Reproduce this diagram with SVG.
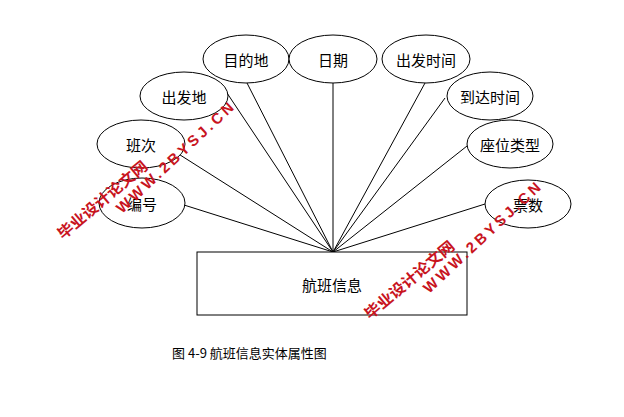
<svg xmlns="http://www.w3.org/2000/svg" width="624" height="417" viewBox="0 0 624 417">
<style>
.e{fill:#fff;stroke:#000;stroke-width:1}
.t{font-family:"Noto Sans CJK SC",sans-serif;font-size:15px;text-anchor:middle;dominant-baseline:central;fill:#000}
.w{font-family:"Liberation Sans","Noto Sans CJK SC",sans-serif;font-weight:bold;fill:#c8141e}
#c line{stroke:#000;stroke-width:1}
</style>
<rect width="624" height="417" fill="#fff"/>
<g id="c">
<line x1="247" y1="83" x2="333" y2="252"/>
<line x1="333" y1="83" x2="333" y2="252"/>
<line x1="425" y1="83" x2="333" y2="252"/>
<line x1="445" y1="98" x2="333" y2="252"/>
<line x1="467" y1="146" x2="333" y2="252"/>
<line x1="485" y1="204" x2="333" y2="252"/>
<line x1="184" y1="205" x2="333" y2="252"/>
<line x1="177" y1="153" x2="333" y2="252"/>
<line x1="227" y1="93" x2="333" y2="252"/>
</g>
<g id="n0"><rect x="197" y="252" width="270" height="63" fill="#fff" stroke="#000"/><text class="t" x="332" y="284">航班信息</text></g>
<g id="n1"><ellipse class="e" cx="246" cy="59" rx="43" ry="24"/><text class="t" x="246" y="59">目的地</text></g>
<g id="n2"><ellipse class="e" cx="333" cy="59" rx="44" ry="24"/><text class="t" x="333" y="59">日期</text></g>
<g id="n3"><ellipse class="e" cx="426" cy="59" rx="44" ry="24"/><text class="t" x="426" y="59">出发时间</text></g>
<g id="n4"><ellipse class="e" cx="490" cy="96" rx="43" ry="24"/><text class="t" x="490" y="96">到达时间</text></g>
<g id="n5"><ellipse class="e" cx="510" cy="144" rx="43" ry="24"/><text class="t" x="510" y="144">座位类型</text></g>
<g id="n6"><ellipse class="e" cx="528" cy="204" rx="43" ry="24"/><text class="t" x="528" y="204">票数</text></g>
<g id="n7"><ellipse class="e" cx="184" cy="96" rx="44" ry="24"/><text class="t" x="184" y="96">出发地</text></g>
<g id="n8"><ellipse class="e" cx="141" cy="144" rx="44" ry="24"/><text class="t" x="141" y="144">班次</text></g>
<g id="n9"><ellipse class="e" cx="142" cy="203" rx="43" ry="25"/><text class="t" x="142" y="203">编号</text></g>
<text x="172" y="352" font-family="'Noto Sans CJK SC',sans-serif" font-size="13" dominant-baseline="central">图 4-9 航班信息实体属性图</text>
<g id="wm">
<text class="w" font-size="15" transform="translate(63,240) rotate(-40)" textLength="112" lengthAdjust="spacingAndGlyphs">毕业设计论文网</text>
<text class="w" font-size="15" transform="translate(122,214) rotate(-43)" textLength="154" lengthAdjust="spacing">WWW.2BYSJ.CN</text>
<text class="w" font-size="15" transform="translate(370,320) rotate(-40)" textLength="112" lengthAdjust="spacingAndGlyphs">毕业设计论文网</text>
<text class="w" font-size="15" transform="translate(429,294) rotate(-43)" textLength="154" lengthAdjust="spacing">WWW.2BYSJ.CN</text>
</g>
</svg>
